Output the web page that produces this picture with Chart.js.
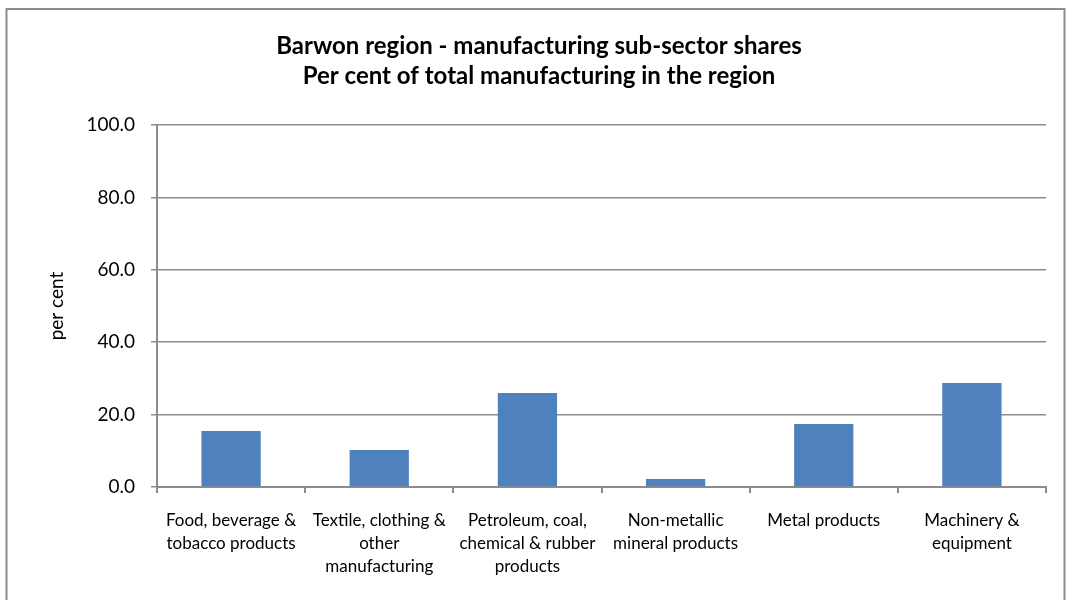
<!DOCTYPE html>
<html>
<head>
<meta charset="utf-8">
<script src="https://cdn.jsdelivr.net/npm/chart.js@4"></script>
<style>
  html, body { margin: 0; padding: 0; background: #fff; }
  #wrap { position: absolute; left: 0; top: 0; width: 1066px; height: 600px; }
</style>
</head>
<body>
<div id="wrap"><canvas id="chart1" width="1066" height="600"></canvas></div>
<script>
// sub-sector names, each split into the lines shown under the axis
var categories = [
  ['Food, beverage &', 'tobacco products'],
  ['Textile, clothing &', 'other', 'manufacturing'],
  ['Petroleum, coal,', 'chemical & rubber', 'products'],
  ['Non-metallic', 'mineral products'],
  ['Metal products'],
  ['Machinery &', 'equipment']
];
var shares = [15.5, 10.2, 26.0, 2.2, 17.4, 28.7];
var yTicks = [0, 20, 40, 60, 80, 100];

var titleLines = [
  'Barwon region - manufacturing sub-sector shares',
  'Per cent of total manufacturing in the region'
];

// grey frame round the whole chart
var frame = {
  id: 'frame',
  beforeDraw: function (chart) {
    var c = chart.ctx;
    c.save();
    c.strokeStyle = '#8c8c8c';
    c.lineWidth = 2;
    c.strokeRect(6.5, 9, 1058, 640);
    c.restore();
  }
};

var ctx = document.getElementById('chart1').getContext('2d');
var myChart = new Chart(ctx, {
  type: 'bar',
  data: {
    labels: categories,
    datasets: [{
      label: 'per cent',
      data: shares,
      backgroundColor: '#4F81BD',
      borderWidth: 0
    }]
  },
  options: {
    responsive: false,
    animation: false,
    barPercentage: 0.4,
    categoryPercentage: 1.0,
    layout: {
      padding: { left: 32, right: 20, top: 31, bottom: 0 }
    },
    plugins: {
      legend: { display: false },
      tooltip: { enabled: false },
      title: {
        display: true,
        text: titleLines,
        color: '#000',
        font: { family: 'Lato, sans-serif', size: 24, weight: 'bold', lineHeight: 1.25 },
        padding: { top: 0, bottom: 34 }
      }
    },
    scales: {
      x: {
        afterFit: function (scale) { scale.height = 113; },
        grid: {
          offset: true,
          drawOnChartArea: false,
          drawTicks: true,
          tickLength: 6,
          color: '#8c8c8c',
          lineWidth: 2
        },
        border: { color: '#8c8c8c', width: 2 },
        ticks: {
          color: '#000',
          maxRotation: 0,
          autoSkip: false,
          padding: 16,
          font: { family: 'Lato, sans-serif', size: 17, lineHeight: 1.35 }
        }
      },
      y: {
        min: 0,
        max: 100,
        afterFit: function (scale) { scale.width = 125; },
        afterBuildTicks: function (scale) {
          scale.ticks = yTicks.map(function (v) { return { value: v }; });
        },
        grid: {
          color: '#8c8c8c',
          lineWidth: 1.5,
          tickLength: 6
        },
        border: { color: '#8c8c8c', width: 2 },
        ticks: {
          color: '#000',
          padding: 16,
          font: { family: 'Lato, sans-serif', size: 19 },
          callback: function (v) { return v.toFixed(1); }
        },
        title: {
          display: true,
          text: 'per cent',
          color: '#000',
          padding: { top: 13, bottom: 0 },
          font: { family: 'Lato, sans-serif', size: 19 }
        }
      }
    }
  },
  plugins: [frame]
});
</script>
</body>
</html>
